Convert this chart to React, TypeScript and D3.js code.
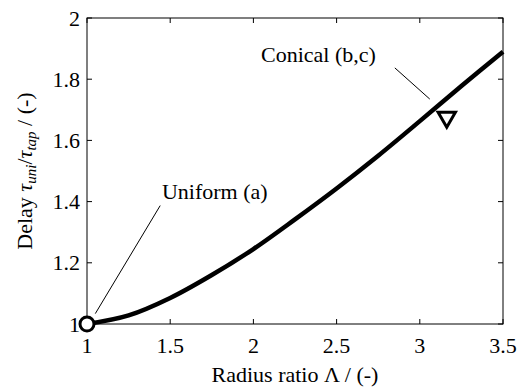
import * as d3 from 'd3';

// radius ratio vs. delay ratio
const radiusRatio = [1.0, 1.25, 1.5, 1.75, 2.0, 2.25, 2.5, 2.75, 3.0, 3.25, 3.5];
const delayRatio = [1.0, 1.028, 1.085, 1.16, 1.245, 1.342, 1.443, 1.55, 1.663, 1.778, 1.89];

const xTicks = [1, 1.5, 2, 2.5, 3, 3.5];
const yTicks = [1, 1.2, 1.4, 1.6, 1.8, 2];

// markers: uniform (circle) and conical (triangle)
const uniformPoint = [1, 1];
const conicalPoint = [3.162, 1.676];

// annotation text anchor + leader line ends (data units)
const annotations = [
  { text: 'Uniform (a)', at: [1.45, 1.41], line: [[1.44, 1.387], [1.05, 1.034]] },
  { text: 'Conical (b,c)', at: [2.046, 1.856], line: [[2.85, 1.837], [3.06, 1.735]] },
];

const W = 525;
const H = 388;
const FS = 22;

const margin = { top: 18, right: 22, bottom: 64, left: 87 };
const innerWidth = W - margin.left - margin.right;
const innerHeight = H - margin.top - margin.bottom;

export default function App() {
  const x = d3.scaleLinear().domain([1, 3.5]).range([0, innerWidth]);
  const y = d3.scaleLinear().domain([1, 2]).range([innerHeight, 0]);

  const pts = radiusRatio.map((r, i) => [r, delayRatio[i]] as [number, number]);
  const line = d3
    .line<[number, number]>()
    .x((d) => x(d[0]))
    .y((d) => y(d[1]))
    .curve(d3.curveCatmullRom.alpha(0.5));
  const tri = d3.symbol().type(d3.symbolTriangle).size(130)() ?? '';
  const tl = 5;
  const txt = { fontFamily: '"Liberation Serif"' };

  return (
    <svg width={W} height={H} style={{ position: 'absolute', left: 0, top: 0, background: '#fff' }}>
      <g transform={`translate(${margin.left},${margin.top})`}>
        <rect width={innerWidth} height={innerHeight} fill="none" stroke="#000" strokeWidth={1} />
        {xTicks.map((t) => (
          <g key={`x${t}`}>
            <line x1={x(t)} x2={x(t)} y1={innerHeight} y2={innerHeight - tl} stroke="#000" />
            <line x1={x(t)} x2={x(t)} y1={0} y2={tl} stroke="#000" />
            <text x={x(t)} y={innerHeight + 29} textAnchor="middle" fontSize={FS} style={txt}>
              {String(t)}
            </text>
          </g>
        ))}
        {yTicks.map((t) => (
          <g key={`y${t}`}>
            <line x1={0} x2={tl} y1={y(t)} y2={y(t)} stroke="#000" />
            <line x1={innerWidth} x2={innerWidth - tl} y1={y(t)} y2={y(t)} stroke="#000" />
            <text x={-7} y={y(t) + 7.5} textAnchor="end" fontSize={FS} style={txt}>
              {String(t)}
            </text>
          </g>
        ))}

        <path d={line(pts) ?? ''} fill="none" stroke="#000" strokeWidth={4.5} />

        {annotations.map((a) => (
          <g key={a.text}>
            <line
              x1={x(a.line[0][0])}
              y1={y(a.line[0][1])}
              x2={x(a.line[1][0])}
              y2={y(a.line[1][1])}
              stroke="#000"
              strokeWidth={1}
            />
            <text x={x(a.at[0])} y={y(a.at[1])} fontSize={FS} style={txt}>
              {a.text}
            </text>
          </g>
        ))}

        <circle cx={x(uniformPoint[0])} cy={y(uniformPoint[1])} r={7} fill="#fff" stroke="#000" strokeWidth={3} />
        <path
          d={tri}
          transform={`translate(${x(conicalPoint[0])},${y(conicalPoint[1])}) rotate(180)`}
          fill="none"
          stroke="#000"
          strokeWidth={3}
        />
      </g>

      <text x={margin.left + innerWidth / 2} y={382} textAnchor="middle" fontSize={FS} style={txt}>
        Radius ratio Λ / (-)
      </text>
      <text
        transform={`translate(32,${margin.top + innerHeight / 2}) rotate(-90)`}
        textAnchor="middle"
        fontSize={FS}
        style={txt}
      >
        <tspan>Delay </tspan>
        <tspan fontStyle="italic">τ</tspan>
        <tspan fontStyle="italic" fontSize={15} dy={4}>uni</tspan>
        <tspan dy={-4}>/</tspan>
        <tspan fontStyle="italic">τ</tspan>
        <tspan fontStyle="italic" fontSize={15} dy={4}>tap</tspan>
        <tspan dy={-4}> / (-)</tspan>
      </text>
    </svg>
  );
}
